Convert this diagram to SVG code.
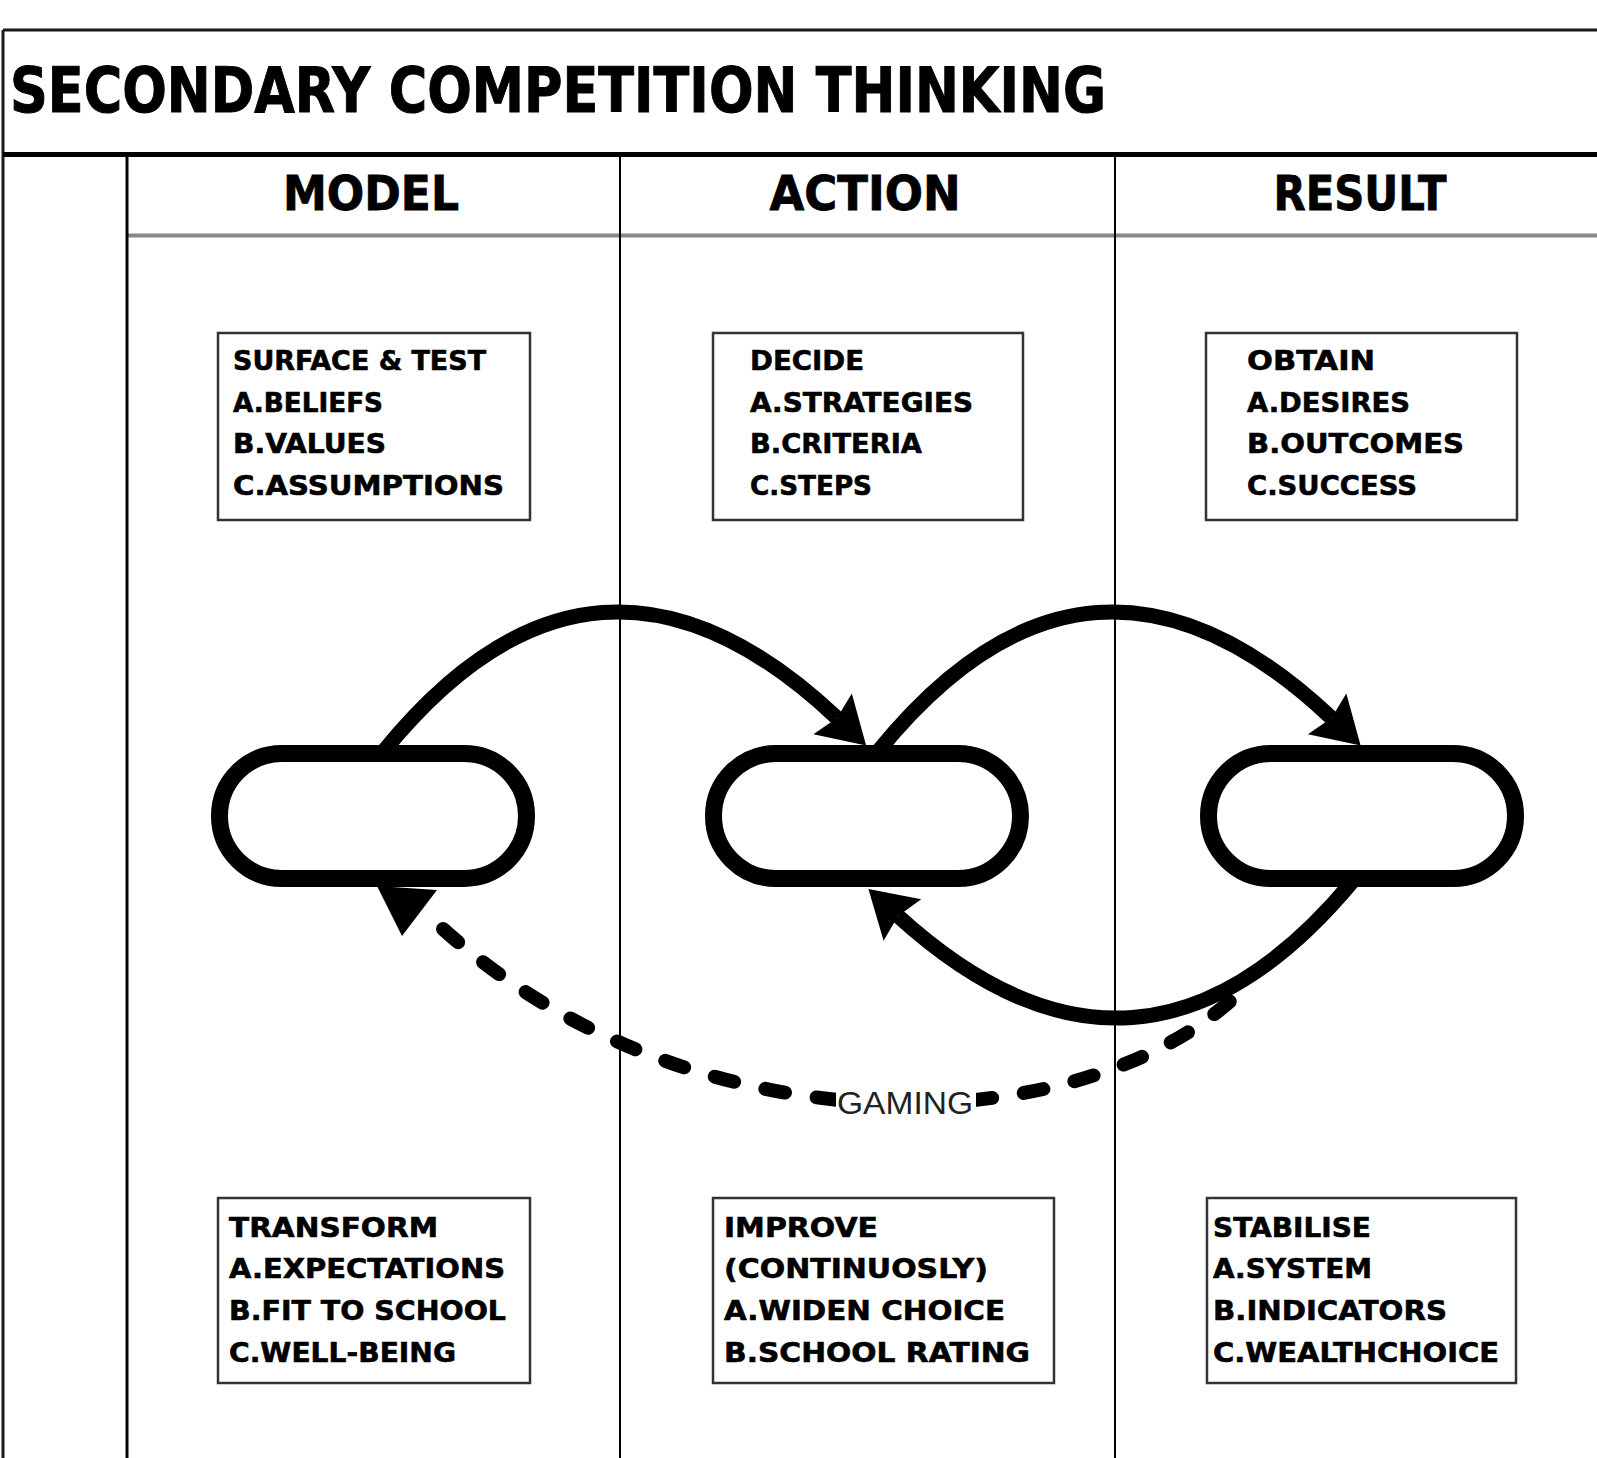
<svg xmlns="http://www.w3.org/2000/svg" width="1597" height="1458" viewBox="0 0 1597 1458">
<style>
.frame{stroke:#1a1a1a;fill:none}
.box{fill:#fff;stroke:#333;stroke-width:2.5}
.pill{fill:#fff;stroke:#000;stroke-width:17}
.bt{font-family:"DejaVu Sans","Liberation Sans",sans-serif;font-weight:bold;font-size:27px;fill:#000;stroke:#000;stroke-width:0.6}
.hd{font-family:"DejaVu Sans","Liberation Sans",sans-serif;font-weight:bold;font-size:48px;fill:#000;stroke:#000;stroke-width:0.8}
.ttl{font-family:"DejaVu Sans","Liberation Sans",sans-serif;font-weight:bold;font-size:62px;fill:#000;stroke:#000;stroke-width:1}
.lbl{font-family:"Liberation Sans",Arial,sans-serif;font-size:32px;fill:#222}
.arr{fill:none;stroke:#000;stroke-width:15}
.dash{fill:none;stroke:#000;stroke-width:14;stroke-dasharray:20 32;stroke-linecap:round}
</style>
<defs>
<marker id="ah" markerUnits="userSpaceOnUse" viewBox="-10 -30 60 60" markerWidth="60" markerHeight="60" refX="0" refY="0" orient="auto" overflow="visible">
<path d="M40,0 L-6,-28 L0,0 L-6,28 Z" fill="#000"/>
</marker>
</defs>
<rect width="1597" height="1458" fill="#fff"/>
<g id="frame">
<line class="frame" x1="3" y1="30" x2="1597" y2="30" stroke-width="3"/>
<line class="frame" x1="3" y1="30" x2="3" y2="1458" stroke-width="3"/>
<line x1="3" y1="154.5" x2="1597" y2="154.5" stroke="#000" stroke-width="5"/>
<line x1="127" y1="235.5" x2="1597" y2="235.5" stroke="#888" stroke-width="4"/>
<line x1="127" y1="154" x2="127" y2="1458" stroke="#000" stroke-width="3"/>
<line x1="620" y1="154" x2="620" y2="1458" stroke="#000" stroke-width="2"/>
<line x1="1115" y1="154" x2="1115" y2="1458" stroke="#000" stroke-width="2"/>
</g>
<g id="title"><text class="ttl" x="10" y="112" textLength="1096" lengthAdjust="spacingAndGlyphs">SECONDARY COMPETITION THINKING</text></g>
<g id="headers">
<text class="hd" x="371" y="210" text-anchor="middle" textLength="176" lengthAdjust="spacingAndGlyphs">MODEL</text>
<text class="hd" x="865" y="210" text-anchor="middle" textLength="191" lengthAdjust="spacingAndGlyphs">ACTION</text>
<text class="hd" x="1360" y="210" text-anchor="middle" textLength="173" lengthAdjust="spacingAndGlyphs">RESULT</text>
</g>
<g id="box-surface">
<rect class="box" x="218" y="333" width="312" height="187"/>
<text class="bt" x="233" y="370" textLength="253" lengthAdjust="spacingAndGlyphs">SURFACE &amp; TEST</text>
<text class="bt" x="233" y="412" textLength="150" lengthAdjust="spacingAndGlyphs">A.BELIEFS</text>
<text class="bt" x="233" y="453" textLength="153" lengthAdjust="spacingAndGlyphs">B.VALUES</text>
<text class="bt" x="233" y="495" textLength="271" lengthAdjust="spacingAndGlyphs">C.ASSUMPTIONS</text>
</g>
<g id="box-decide">
<rect class="box" x="713" y="333" width="310" height="187"/>
<text class="bt" x="750" y="370" textLength="114" lengthAdjust="spacingAndGlyphs">DECIDE</text>
<text class="bt" x="750" y="412" textLength="223" lengthAdjust="spacingAndGlyphs">A.STRATEGIES</text>
<text class="bt" x="750" y="453" textLength="172" lengthAdjust="spacingAndGlyphs">B.CRITERIA</text>
<text class="bt" x="750" y="495" textLength="122" lengthAdjust="spacingAndGlyphs">C.STEPS</text>
</g>
<g id="box-obtain">
<rect class="box" x="1206" y="333" width="311" height="187"/>
<text class="bt" x="1247" y="370" textLength="128" lengthAdjust="spacingAndGlyphs">OBTAIN</text>
<text class="bt" x="1247" y="412" textLength="163" lengthAdjust="spacingAndGlyphs">A.DESIRES</text>
<text class="bt" x="1247" y="453" textLength="217" lengthAdjust="spacingAndGlyphs">B.OUTCOMES</text>
<text class="bt" x="1247" y="495" textLength="170" lengthAdjust="spacingAndGlyphs">C.SUCCESS</text>
</g>
<g id="box-transform">
<rect class="box" x="218" y="1198" width="312" height="185"/>
<text class="bt" x="229" y="1237" textLength="209" lengthAdjust="spacingAndGlyphs">TRANSFORM</text>
<text class="bt" x="229" y="1278" textLength="276" lengthAdjust="spacingAndGlyphs">A.EXPECTATIONS</text>
<text class="bt" x="229" y="1320" textLength="277" lengthAdjust="spacingAndGlyphs">B.FIT TO SCHOOL</text>
<text class="bt" x="229" y="1362" textLength="227" lengthAdjust="spacingAndGlyphs">C.WELL-BEING</text>
</g>
<g id="box-improve">
<rect class="box" x="713" y="1198" width="341" height="185"/>
<text class="bt" x="724" y="1237" textLength="154" lengthAdjust="spacingAndGlyphs">IMPROVE</text>
<text class="bt" x="724" y="1278" textLength="264" lengthAdjust="spacingAndGlyphs">(CONTINUOSLY)</text>
<text class="bt" x="724" y="1320" textLength="281" lengthAdjust="spacingAndGlyphs">A.WIDEN CHOICE</text>
<text class="bt" x="724" y="1362" textLength="306" lengthAdjust="spacingAndGlyphs">B.SCHOOL RATING</text>
</g>
<g id="box-stabilise">
<rect class="box" x="1207" y="1198" width="309" height="185"/>
<text class="bt" x="1213" y="1237" textLength="158" lengthAdjust="spacingAndGlyphs">STABILISE</text>
<text class="bt" x="1213" y="1278" textLength="159" lengthAdjust="spacingAndGlyphs">A.SYSTEM</text>
<text class="bt" x="1213" y="1320" textLength="234" lengthAdjust="spacingAndGlyphs">B.INDICATORS</text>
<text class="bt" x="1213" y="1362" textLength="286" lengthAdjust="spacingAndGlyphs">C.WEALTHCHOICE</text>
</g>
<g id="connectors">
<path class="dash" d="M443,929 C700,1160 1100,1145 1252,980"/>
<rect x="836" y="1087" width="140" height="32" fill="#fff"/>
<text class="lbl" x="837" y="1114" textLength="136" lengthAdjust="spacingAndGlyphs">GAMING</text>
<path class="arr" d="M383,752 Q595,490 837,718" marker-end="url(#ah)"/>
<path class="arr" d="M877.5,752 Q1089.5,490 1331.5,718" marker-end="url(#ah)"/>
<path class="arr" d="M1352,882 Q1140,1136 898,916" marker-end="url(#ah)"/>
</g>
<g id="pill-model"><rect class="pill" x="219.5" y="753.5" width="307" height="125" rx="62.5"/></g>
<g id="pill-action"><rect class="pill" x="713.5" y="753.5" width="307" height="125" rx="62.5"/></g>
<g id="pill-result"><rect class="pill" x="1208.5" y="753.5" width="307" height="125" rx="62.5"/></g>
<g id="gaming-head"><polygon points="377,886 437,890 402,936" fill="#000"/></g>
</svg>
